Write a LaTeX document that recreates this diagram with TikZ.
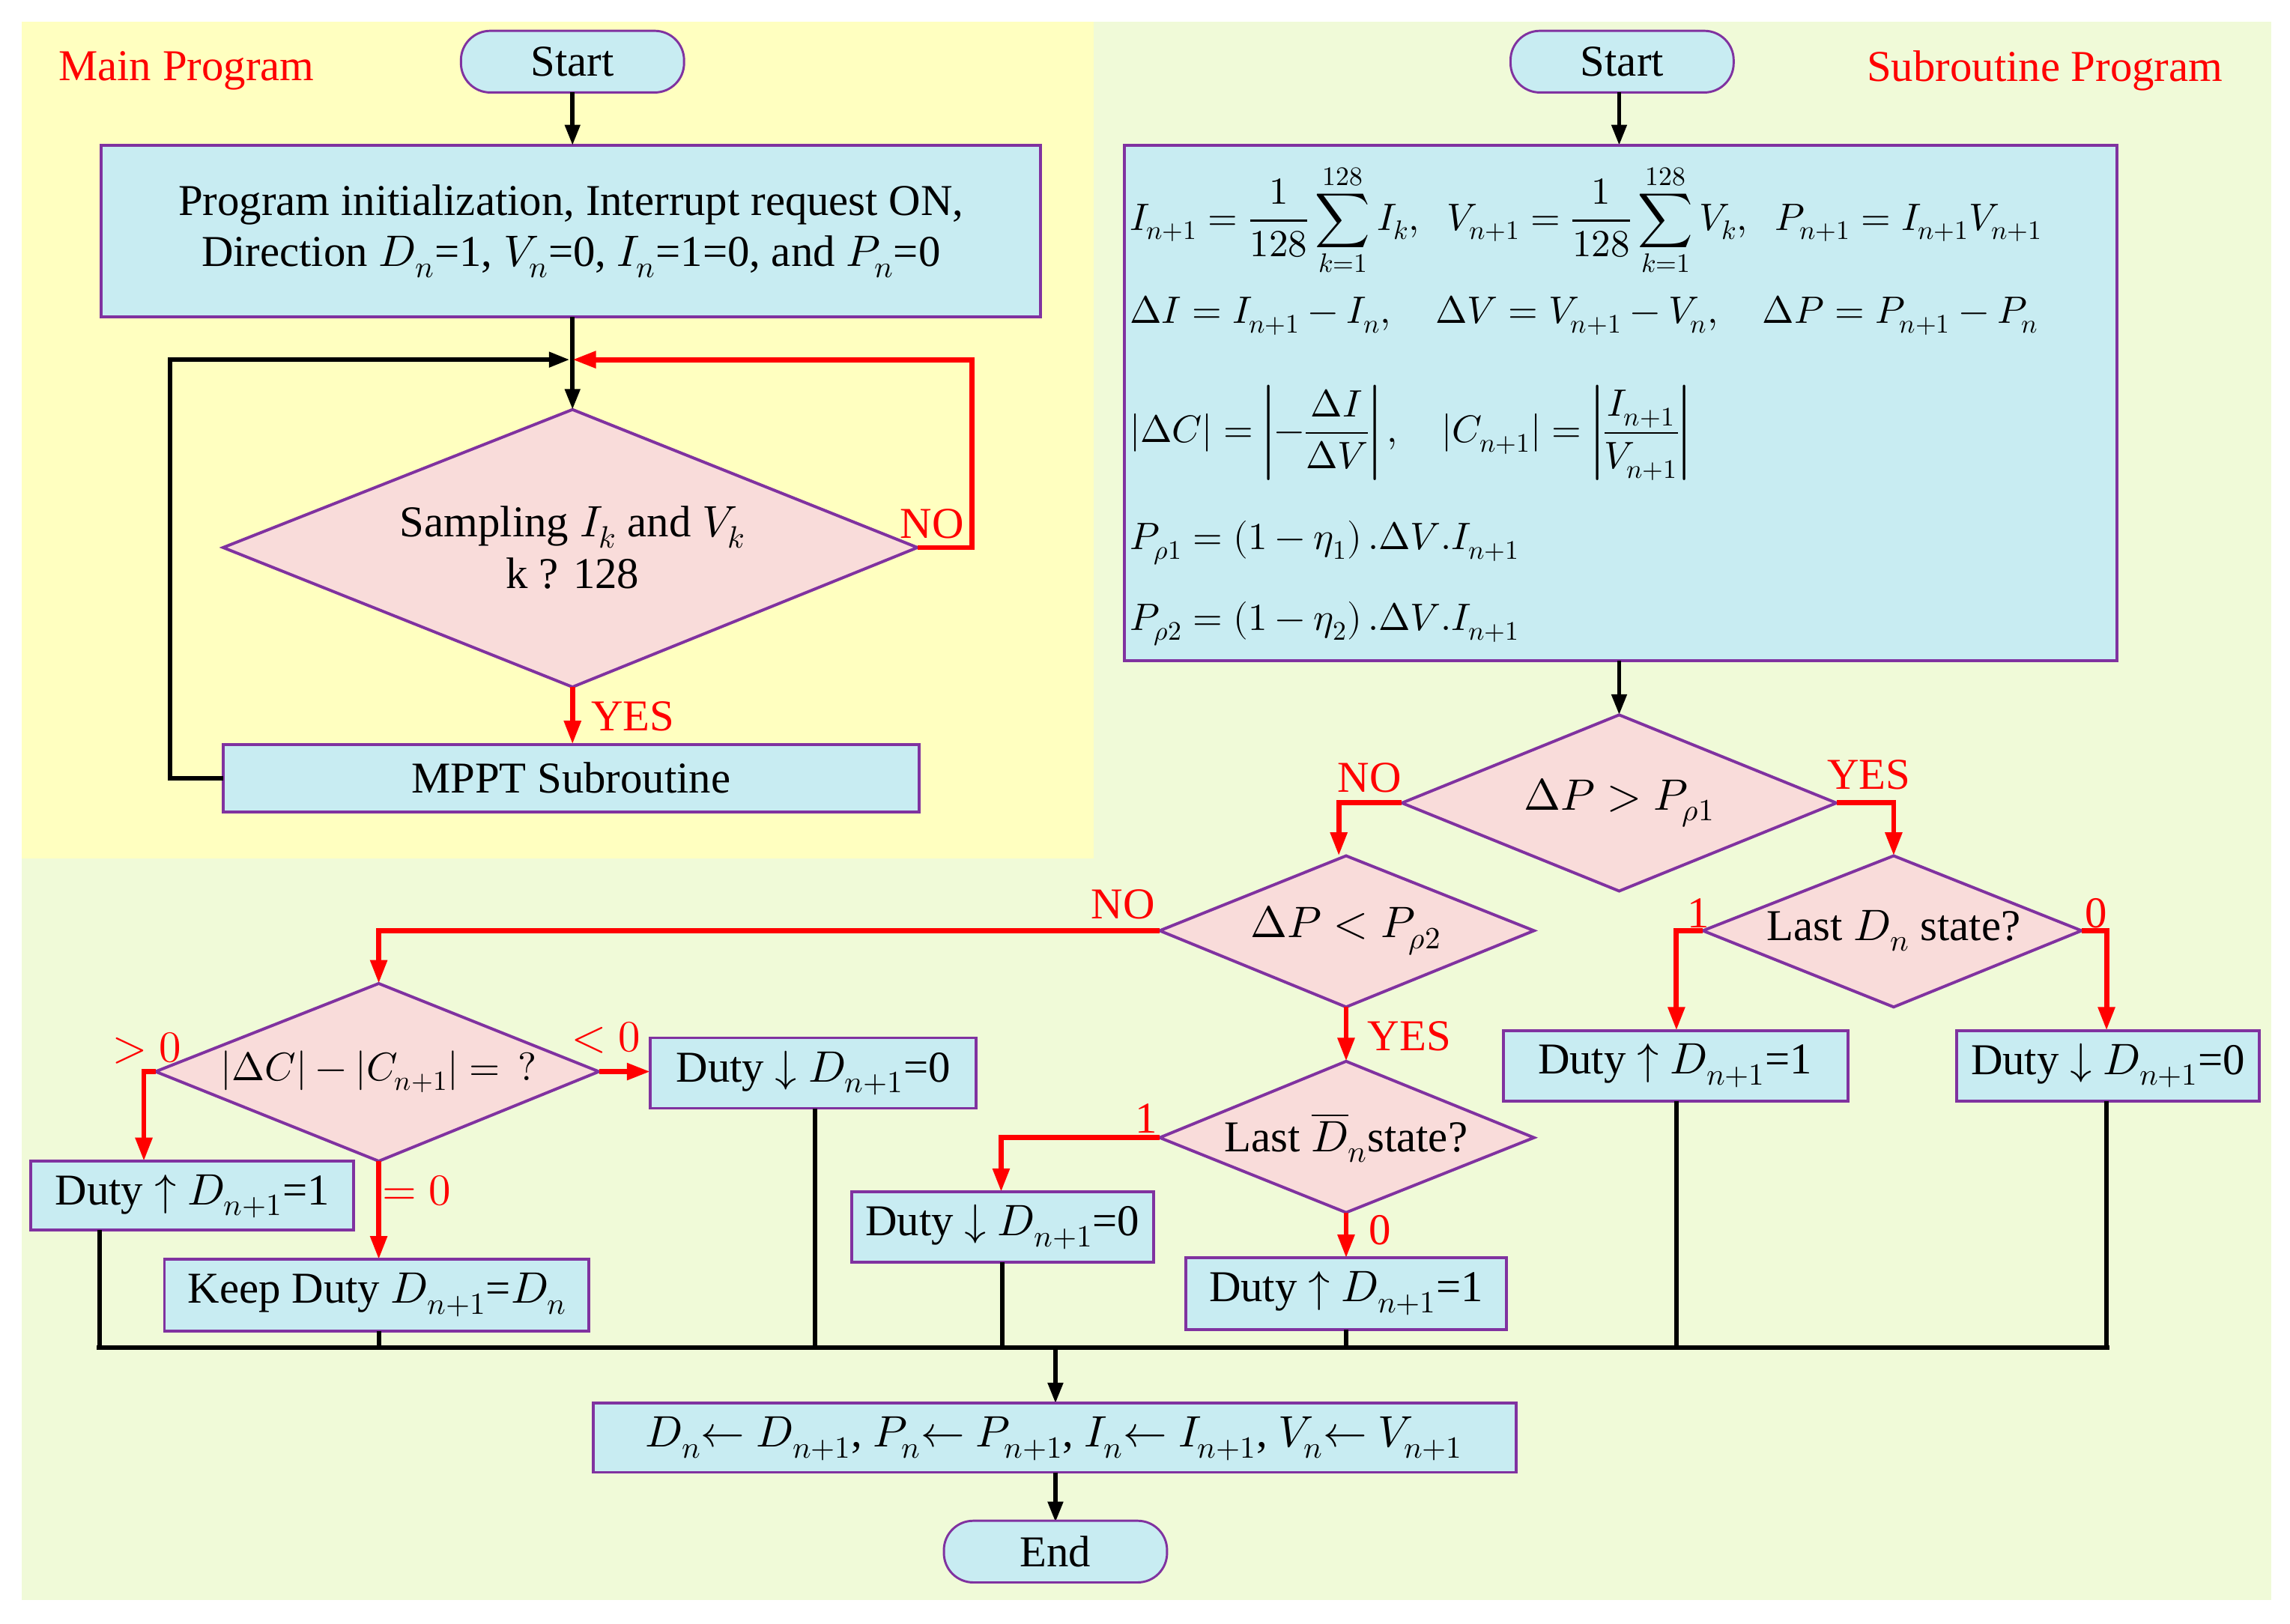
\documentclass[tikz,border=0pt]{standalone}
\usepackage{amsmath}
\usepackage{fontspec}
\usepackage{unicode-math}
\setmainfont{Liberation Serif}
\setmathfont{Latin Modern Math}
\usetikzlibrary{arrows.meta,shapes.geometric}
\definecolor{yel}{RGB}{255,255,192}
\definecolor{grn}{RGB}{240,250,216}
\definecolor{boxc}{RGB}{200,236,242}
\definecolor{dia}{RGB}{249,220,218}
\definecolor{pur}{RGB}{128,50,160}
\definecolor{red1}{RGB}{255,0,0}
\begin{document}
\begin{tikzpicture}[x=1pt,y=-1pt,
  every node/.style={font=\fontsize{30}{35}\selectfont},
  fml/.style={anchor=west,font=\fontsize{26}{30}\selectfont},
  bx/.style={draw=pur,line width=2pt,fill=boxc,inner sep=0pt},
  term/.style={draw=pur,line width=1.5pt,fill=boxc,rounded corners=20pt,minimum width=152pt,minimum height=42pt,inner sep=0pt},
  dm/.style={draw=pur,line width=2pt,fill=dia},
  blk/.style={line width=3pt,-{Triangle[length=14pt,width=10pt]}},
  bl/.style={line width=3pt},
  rd/.style={line width=3.5pt,red1,-{Triangle[length=16pt,width=11pt]}},
  lab/.style={text=red1}]
\useasboundingbox (0,0) rectangle (1560,1106);
\fill[white] (0,0) rectangle (1560,1106);
\fill[grn] (15,15) rectangle (1547,1090);
\fill[yel] (15,15) rectangle (745,585);
\node[lab] (mp) at (127,48) {Main Program};
\node[lab] (sp) at (1393,48) {Subroutine Program};
% main program
\node[term] (s1) at (390,42) {Start};
\draw[bx] (69,99) rectangle (709,216);
\node[align=center] (init) at (389,157.5) {Program initialization, Interrupt request ON,\\Direction $D_n$=1, $V_n$=0, $I_n$=1=0, and $P_n$=0};
\coordinate (j1) at (390,245);
\draw[dm] (152,373) -- (390,279) -- (625,373) -- (390,468) -- cycle;
\node[align=center] (samp) at (390,373) {Sampling $I_k$ and $V_k$\\k ? 128};
\draw[bx] (152,507) rectangle (626,553);
\node (mppt) at (389,530) {MPPT Subroutine};
\draw[blk] (390,63) -- (390,99);
\draw[bl] (390,216) -- (j1);
\draw[blk] (390,245) -- (390,279);
\draw[rd] (625,373) -- (662,373) -- (662,245) -- (390,245);
\draw[blk] (152,530) -- (116,530) -- (116,245) -- (388,245);
\draw[rd] (390,468) -- (390,507);
\node[lab] at (635,357) {NO};
\node[lab] at (431,488) {YES};
% subroutine
\node[term] (s2) at (1105,42) {Start};
\draw[blk] (1103,63) -- (1103,99);
\draw[bx] (766,99) rectangle (1442,450);
\node[fml] (f1) at (766,150) {$I_{n+1}=\dfrac{1}{128}\displaystyle\sum_{k=1}^{128}I_k,\;\; V_{n+1}=\dfrac{1}{128}\sum_{k=1}^{128}V_k,\;\; P_{n+1}=I_{n+1}V_{n+1}$};
\node[fml] (f2) at (766,215) {$\Delta I=I_{n+1}-I_n,\quad \Delta V=V_{n+1}-V_n,\quad \Delta P=P_{n+1}-P_n$};
\node[fml] (f3) at (766,295) {$\left|\Delta C\right|=\left|-\dfrac{\Delta I}{\Delta V}\right|,\quad \left|C_{n+1}\right|=\left|\dfrac{I_{n+1}}{V_{n+1}}\right|$};
\node[fml] (f4) at (766,370) {$P_{\rho 1}=\left(1-\eta_1\right).\Delta V.I_{n+1}$};
\node[fml] (f5) at (766,425) {$P_{\rho 2}=\left(1-\eta_2\right).\Delta V.I_{n+1}$};
\draw[blk] (1103,450) -- (1103,487);
% diamond 1
\draw[dm] (955,547) -- (1103,487) -- (1251,547) -- (1103,607) -- cycle;
\node (d1) at (1103,547) {$\Delta P>P_{\rho 1}$};
\draw[rd] (955,547) -- (912,547) -- (912,583);
\draw[rd] (1251,547) -- (1290,547) -- (1290,583);
\node[lab] at (933,530) {NO};
\node[lab] at (1273,528) {YES};
% diamond 2
\draw[dm] (790,634) -- (917,583) -- (1045,634) -- (917,686) -- cycle;
\node (d2) at (917,634) {$\Delta P<P_{\rho 2}$};
\draw[rd] (790,634) -- (258,634) -- (258,670);
\draw[rd] (917,686) -- (917,723);
\node[lab] at (765,616) {NO};
\node[lab] at (960,706) {YES};
% diamond 3
\draw[dm] (1160,634) -- (1290,583) -- (1418,634) -- (1290,686) -- cycle;
\node (d3) at (1290,634) {Last $D_n$ state?};
\draw[rd] (1160,634) -- (1142,634) -- (1142,702);
\draw[rd] (1418,634) -- (1435,634) -- (1435,702);
\node[lab] at (1157,622) {1};
\node[lab] at (1428,622) {0};
\draw[bx] (1024,702) rectangle (1259,750);
\node (b31) at (1141,726) {Duty $\uparrow$ $D_{n+1}$=1};
\draw[bx] (1333,702) rectangle (1539,750);
\node (b32) at (1436,726) {Duty $\downarrow$ $D_{n+1}$=0};
% diamond 4
\draw[dm] (106,730) -- (258,670) -- (408,730) -- (258,791) -- cycle;
\node[font=\fontsize{27}{31}\selectfont] (d4) at (258,730) {$\left|\Delta C\right|-\left|C_{n+1}\right|=\,?$};
\draw[rd] (106,730) -- (98,730) -- (98,791);
\draw[rd] (408,730) -- (443,730);
\draw[rd] (258,791) -- (258,858);
\node[lab] at (100,714) {$>0$};
\node[lab] at (413,707) {$<0$};
\node[lab] at (284,811) {$=0$};
\draw[bx] (443,707) rectangle (665,755);
\node (b41) at (554,731) {Duty $\downarrow$ $D_{n+1}$=0};
\draw[bx] (21,791) rectangle (241,838);
\node (b42) at (131,815) {Duty $\uparrow$ $D_{n+1}$=1};
\draw[bx] (112,858) rectangle (401,907);
\node (b43) at (257,882) {Keep Duty $D_{n+1}$=$D_n$};
% diamond 5
\draw[dm] (790,775) -- (917,723) -- (1045,775) -- (917,826) -- cycle;
\node (d5) at (917,775) {Last $\overline{D}_n$state?};
\draw[rd] (790,775) -- (682,775) -- (682,812);
\draw[rd] (917,826) -- (917,857);
\node[lab] at (781,762) {1};
\node[lab] at (940,838) {0};
\draw[bx] (580,812) rectangle (786,860);
\node (b51) at (683,836) {Duty $\downarrow$ $D_{n+1}$=0};
\draw[bx] (808,857) rectangle (1026,906);
\node (b52) at (917,881) {Duty $\uparrow$ $D_{n+1}$=1};
% bus
\draw[bl] (66,918) -- (1437,918);
\draw[bl] (68,838) -- (68,918);
\draw[bl] (258,907) -- (258,918);
\draw[bl] (555,755) -- (555,918);
\draw[bl] (683,860) -- (683,918);
\draw[bl] (917,906) -- (917,918);
\draw[bl] (1142,750) -- (1142,918);
\draw[bl] (1435,750) -- (1435,918);
\draw[blk] (719,918) -- (719,956);
\draw[bx] (404,956) rectangle (1033,1003);
\node (fin) at (718,980) {$D_n$$\leftarrow$ $D_{n+1}$, $P_n$$\leftarrow$ $P_{n+1}$, $I_n$$\leftarrow$ $I_{n+1}$, $V_n$$\leftarrow$ $V_{n+1}$};
\draw[blk] (719,1003) -- (719,1037);
\node[term] (e) at (719,1057) {End};
\end{tikzpicture}
\end{document}
